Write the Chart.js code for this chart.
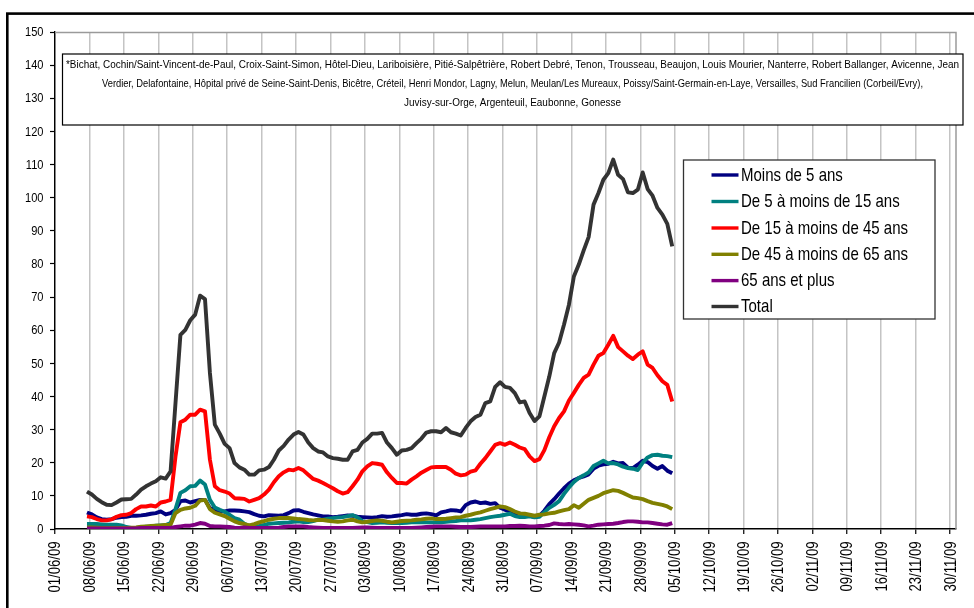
<!DOCTYPE html>
<html><head><meta charset="utf-8">
<script src="https://cdn.jsdelivr.net/npm/chart.js@4.4.1/dist/chart.umd.min.js"></script>
<style>html,body{margin:0;padding:0;background:#fff;overflow:hidden}canvas{display:block}</style>
</head><body>
<canvas id="c" width="974" height="608"></canvas>
<script>
// ---------- data ----------
const seriesLabels = ['Moins de 5 ans','De 5 à moins de 15 ans','De 15 à moins de 45 ans','De 45 à moins de 65 ans','65 ans et plus','Total'];
const firstDate = '07/06/09';   // first daily value
const tickLabels = ['01/06/09','08/06/09','15/06/09','22/06/09','29/06/09','06/07/09','13/07/09','20/07/09','27/07/09','03/08/09','10/08/09','17/08/09','24/08/09','31/08/09','07/09/09','14/09/09','21/09/09','28/09/09','05/10/09','12/10/09','19/10/09','26/10/09','02/11/09','09/11/09','16/11/09','23/11/09','30/11/09'];
const yTicks = [0,10,20,30,40,50,60,70,80,90,100,110,120,130,140,150];

const moinsDe5 = [5.0,4.4,3.5,3.0,2.8,3.0,3.4,3.6,3.7,4.0,
 4.0,4.1,4.3,4.6,4.8,5.3,4.4,4.8,5.8,8.4,
 8.6,8.0,8.4,8.8,8.8,6.3,5.8,5.4,5.3,5.6,
 5.6,5.5,5.3,5.1,4.5,4.0,3.8,4.2,4.1,4.0,
 4.2,4.8,5.6,5.7,5.2,4.8,4.4,4.1,3.8,3.8,
 3.6,3.7,3.9,4.1,4.0,3.7,3.6,3.5,3.4,3.6,
 3.9,3.7,3.8,4.0,4.2,4.5,4.3,4.3,4.6,4.7,
 4.5,4.1,5.0,5.3,5.7,5.6,5.3,7.2,8.0,8.3,
 7.8,8.0,7.6,7.8,6.4,5.8,5.3,4.8,4.6,4.3,
 4.0,3.7,4.0,5.5,7.5,9.0,10.7,12.3,13.7,14.7,
 15.4,15.9,16.5,18.2,19.1,19.5,19.7,20.3,19.8,19.9,
 18.5,18.4,19.4,20.6,20.2,19.0,18.2,19.0,17.6,16.8];

const de5a15 = [1.5,1.5,1.5,1.4,1.3,1.3,1.3,1.1,0.6,0.3,
 0.3,0.5,0.7,0.8,1.0,1.1,1.2,1.8,6.0,10.9,
 11.7,12.9,13.0,14.6,13.4,8.8,6.5,5.8,5.2,4.3,
 3.3,2.8,1.6,1.0,0.8,0.9,1.2,1.6,1.7,1.8,
 1.9,2.0,2.2,2.3,2.1,2.1,2.4,2.8,2.8,3.1,
 3.3,3.5,3.6,3.9,4.2,3.5,2.4,2.1,1.8,1.9,
 2.0,1.9,1.8,1.8,1.8,1.9,2.0,2.1,2.0,2.0,
 2.0,2.0,2.0,2.2,2.3,2.4,2.6,2.6,2.6,2.8,
 3.0,3.3,3.6,3.8,4.0,4.3,4.6,3.9,3.6,3.6,
 3.8,3.5,3.7,5.1,6.4,7.3,8.4,10.6,12.5,14.2,
 15.4,16.2,17.1,19.0,19.8,20.6,19.8,19.9,19.5,18.8,
 18.4,18.2,17.8,20.0,21.6,22.3,22.4,22.1,22.0,21.7];

const de15a45 = [3.8,3.6,3.0,2.6,2.6,2.9,3.7,4.2,4.3,4.8,
 6.0,6.8,6.8,7.1,6.8,8.0,8.3,8.8,21.9,32.2,
 33.0,34.5,34.5,36.0,35.5,20.9,12.9,11.7,11.3,10.7,
 9.3,9.2,9.1,8.3,8.8,9.3,10.4,11.9,14.1,15.9,
 17.1,17.9,17.7,18.4,17.7,16.4,15.1,14.6,13.9,13.1,
 12.3,11.4,10.7,11.1,12.9,14.9,17.4,18.9,19.9,19.7,
 19.4,17.1,15.4,13.9,13.9,13.7,14.9,15.9,17.0,17.8,
 18.6,18.7,18.7,18.7,17.9,16.7,16.2,16.4,17.3,17.7,
 19.7,21.4,23.4,25.4,25.9,25.4,26.1,25.4,24.6,24.1,
 21.9,20.5,21.1,23.8,27.7,31.0,33.5,35.5,38.8,41.1,
 43.5,45.6,46.6,49.6,52.3,53.1,55.6,58.3,54.9,53.6,
 52.3,51.3,52.6,53.6,49.6,48.6,46.4,44.6,43.5,38.5];

const de45a65 = [0.5,0.5,0.4,0.3,0.3,0.3,0.3,0.3,0.3,0.4,
 0.5,0.7,0.8,0.9,1.0,1.1,1.2,1.3,4.8,5.8,
 6.2,6.4,7.0,8.6,8.8,6.0,4.9,4.4,3.9,3.1,
 2.3,1.8,1.5,1.1,1.5,2.0,2.4,2.8,3.1,3.3,
 3.3,3.3,3.2,3.0,2.9,2.7,2.6,2.7,2.7,2.5,
 2.3,2.2,2.3,2.6,2.8,2.3,2.0,2.2,2.4,2.6,
 2.5,2.2,2.0,2.2,2.4,2.5,2.6,2.8,2.9,3.1,
 3.2,3.0,3.0,3.1,3.3,3.5,3.6,4.0,4.3,4.7,
 5.0,5.5,6.0,6.4,6.8,6.6,6.0,5.3,4.7,4.6,
 4.3,4.0,4.3,4.4,4.7,4.9,5.3,5.7,6.0,7.2,
 6.4,7.6,8.8,9.4,10.0,10.8,11.3,11.7,11.5,10.9,
 10.2,9.5,9.3,9.0,8.4,7.9,7.6,7.3,6.8,6.0];

const plus65 = [0.2,0.2,0.2,0.2,0.2,0.2,0.2,0.2,0.2,0.2,
 0.2,0.3,0.3,0.3,0.3,0.3,0.3,0.3,0.6,0.8,
 1.0,1.0,1.3,1.8,1.6,0.9,0.8,0.8,0.7,0.6,
 0.4,0.3,0.5,0.3,0.3,0.3,0.3,0.3,0.3,0.4,
 0.6,0.8,0.8,0.8,0.8,0.6,0.5,0.4,0.3,0.3,
 0.3,0.3,0.3,0.3,0.3,0.4,0.5,0.5,0.4,0.3,
 0.3,0.3,0.3,0.3,0.3,0.3,0.3,0.4,0.5,0.6,
 0.7,0.8,0.8,0.8,0.8,0.7,0.6,0.6,0.6,0.7,
 0.8,0.8,0.8,0.8,0.8,0.8,0.9,0.9,1.0,0.9,
 0.8,0.8,0.9,1.0,1.2,1.7,1.5,1.4,1.5,1.4,
 1.3,1.1,0.8,1.0,1.3,1.4,1.5,1.6,1.8,2.1,
 2.3,2.3,2.2,2.0,2.0,1.8,1.6,1.4,1.3,1.8];

const total = [11.3,10.4,9.1,8.1,7.3,7.2,8.0,8.9,9.0,9.1,
 10.4,11.9,12.9,13.7,14.4,15.6,15.2,17.4,38.0,58.6,
 60.1,63.0,64.7,70.4,69.4,47.1,31.5,28.8,25.7,24.4,
 19.9,18.6,17.9,16.4,16.4,17.7,17.9,18.7,20.9,23.7,
 25.1,27.0,28.5,29.3,28.5,26.1,24.4,23.4,23.1,21.9,
 21.4,21.2,20.9,20.9,23.4,23.9,26.1,27.2,28.8,28.8,
 29.0,26.1,24.4,22.4,23.7,23.9,24.4,25.9,27.3,29.1,
 29.5,29.5,29.2,30.5,29.2,28.8,28.2,30.5,32.5,33.8,
 34.5,38.0,38.5,42.9,44.3,42.9,42.6,41.0,38.2,38.5,
 35.0,32.6,34.0,40.0,46.0,53.1,56.3,61.7,67.7,76.2,
 79.8,84.1,88.1,97.9,101.4,105.4,107.4,111.5,106.9,105.6,
 101.6,101.4,102.4,107.6,102.6,100.6,96.9,94.9,92.1,85.3];

const noteLines = [
 '*Bichat, Cochin/Saint-Vincent-de-Paul, Croix-Saint-Simon, Hôtel-Dieu, Lariboisière, Pitié-Salpêtrière, Robert Debré, Tenon, Trousseau, Beaujon, Louis Mourier, Nanterre, Robert Ballanger, Avicenne, Jean',
 'Verdier, Delafontaine, Hôpital privé de Seine-Saint-Denis, Bicêtre, Créteil, Henri Mondor, Lagny, Melun, Meulan/Les Mureaux, Poissy/Saint-Germain-en-Laye, Versailles, Sud Francilien (Corbeil/Evry),',
 'Juvisy-sur-Orge, Argenteuil, Eaubonne, Gonesse'
];

// ---------- styles ----------
const seriesData = [moinsDe5, de5a15, de15a45, de45a65, plus65, total];
const seriesColors = ['#000080','#008080','#FF0000','#808000','#800080','#333333'];

function fontAvailable(name){
  const c=document.createElement('canvas').getContext('2d');
  const s='abcdefghijklmnopqrstuvwxyz0123456789ABCDEFGH';
  c.font='40px monospace'; const w1=c.measureText(s).width;
  c.font='40px "'+name+'", monospace'; const w2=c.measureText(s).width;
  return Math.abs(w1-w2)>0.5;
}
const NARROW = fontAvailable('Liberation Sans Narrow');
const FAMILY = NARROW ? '"Liberation Sans Narrow", "Arial Narrow", sans-serif' : '"Liberation Sans", Arial, sans-serif';
const COND = NARROW ? 1 : 0.82;   // horizontal condensing to mimic Arial Narrow

function parseDate(s){ const p=s.split('/'); return Date.UTC(2000+(+p[2]), +p[1]-1, +p[0]); }
const origin = parseDate(tickLabels[0]);
function dayIndex(s){ return Math.round((parseDate(s)-origin)/86400000); }
const tickValues = tickLabels.map(dayIndex);
const startX = dayIndex(firstDate) + 0.5;

const datasets = seriesData.map((arr,k)=>({
  label: seriesLabels[k],
  data: arr.map((v,i)=>({x:startX+i, y:v})),
  borderColor: seriesColors[k],
  backgroundColor: seriesColors[k],
  borderWidth: 3.9,
  pointRadius: 0,
  tension: 0,
  fill: false,
  borderJoinStyle: 'round',
  order: seriesData.length-1-k
}));

function drawText(ctx, text, x, y, size, opts){
  opts = opts || {};
  ctx.save();
  ctx.font = size+'px '+FAMILY;
  let s = COND;
  if (opts.target) s = opts.target/ctx.measureText(text).width;
  ctx.translate(x, y);
  if (opts.rotate) ctx.rotate(opts.rotate);
  ctx.scale(s, 1);
  ctx.textAlign = opts.align || 'left'; ctx.textBaseline = 'middle';
  ctx.fillStyle = '#000';
  ctx.fillText(text, 0, 0);
  ctx.restore();
}

const decor = {
  id: 'decor',
  afterDraw(chart){
    const ctx = chart.ctx, a = chart.chartArea;
    const xs = chart.scales.x, ys = chart.scales.y;
    ctx.save();
    // plot area border (top & right)
    ctx.strokeStyle = '#9a9a9a'; ctx.lineWidth = 1.5;
    ctx.beginPath(); ctx.moveTo(a.left, a.top+0.5); ctx.lineTo(a.right, a.top+0.5); ctx.lineTo(a.right, a.bottom); ctx.stroke();

    // axis tick labels
    yTicks.forEach(v => drawText(ctx, String(v), a.left-11.5, ys.getPixelForValue(v)+0.5, 13.5, {align:'right'}));
    tickLabels.forEach((t,k) => drawText(ctx, t, xs.getPixelForValue(tickValues[k])+1, a.bottom+12.5, 16, {align:'right', rotate:-Math.PI/2}));

    // note box
    ctx.fillStyle = '#fff'; ctx.fillRect(62.5, 54, 900.5, 71);
    ctx.strokeStyle = '#000'; ctx.lineWidth = 1.2; ctx.strokeRect(62.5, 54, 900.5, 71);
    const noteTargets = [893, 821, 217];
    const noteY = [65, 84, 103];
    noteLines.forEach((t,i)=> drawText(ctx, t, 512.5, noteY[i], 11, {align:'center', target: noteTargets[i]}));

    // legend box
    ctx.fillStyle = '#fff'; ctx.fillRect(683.5, 160, 251.5, 159);
    ctx.strokeStyle = '#333'; ctx.lineWidth = 1.3; ctx.strokeRect(683.5, 160, 251.5, 159);
    ctx.font = '18.5px '+FAMILY;
    const ls = 167/ctx.measureText('De 45 à moins de 65 ans').width;
    const ly = [175, 201.5, 228, 254.3, 280.6, 306.5];
    chart.data.datasets.forEach((d,i)=>{
      ctx.strokeStyle = d.borderColor; ctx.lineWidth = 3.4;
      ctx.beginPath(); ctx.moveTo(711.5, ly[i]); ctx.lineTo(738.5, ly[i]); ctx.stroke();
      ctx.save(); ctx.translate(741, ly[i]+0.5); ctx.scale(ls,1);
      ctx.fillStyle = '#000'; ctx.font = '18.5px '+FAMILY;
      ctx.textAlign='left'; ctx.textBaseline='middle';
      ctx.fillText(d.label, 0, 0); ctx.restore();
    });

    // outer chart border
    ctx.strokeStyle = '#000'; ctx.lineWidth = 2.6;
    ctx.strokeRect(7.3, 13.6, 1100, 1000);
    ctx.restore();
  }
};

new Chart(document.getElementById('c'), {
  type: 'line',
  data: { datasets },
  plugins: [decor],
  options: {
    responsive: false,
    devicePixelRatio: 1,
    animation: false,
    layout: { padding: { left: 0, top: 32, right: 18, bottom: 0 } },
    plugins: { legend: { display: false }, tooltip: { enabled: false } },
    scales: {
      x: {
        type: 'linear',
        min: 0, max: 183.2,
        afterBuildTicks(scale){ scale.ticks = tickValues.map(v=>({value:v})); },
        afterFit(scale){ scale.height = 79; },
        ticks: { display: false },
        grid: { color: '#c4c4c4', lineWidth: 1.5, tickLength: 5, tickColor: '#000', tickWidth: 1.2 },
        border: { color: '#000', width: 1.6 }
      },
      y: {
        min: 0, max: 150,
        afterBuildTicks(scale){ scale.ticks = yTicks.map(v=>({value:v})); },
        afterFit(scale){ scale.width = 55; },
        ticks: { display: false },
        grid: { drawOnChartArea: false, tickLength: 5, tickColor: '#000', tickWidth: 1.2 },
        border: { color: '#000', width: 1.4 }
      }
    }
  }
});
</script>
</body></html>
